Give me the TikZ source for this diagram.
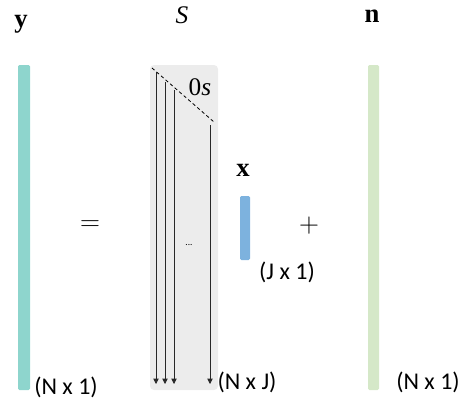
\documentclass[tikz,border=0pt]{standalone}
\usepackage{fontspec}
\setmainfont{Carlito}
\newfontfamily\symserif{Liberation Serif}
\usetikzlibrary{arrows.meta}
\tikzset{every picture/.style={line width=0.75pt}}
\tikzset{
  vecbar/.style={rounded corners=1pt, draw=none},
  veclabel/.style={font=\symserif\bfseries\fontsize{20}{22}\selectfont, inner sep=0pt},
  dimlabel/.style={font=\fontsize{18}{20}\selectfont, inner sep=0pt},
  oplabel/.style={font=\fontsize{20}{22}\selectfont, inner sep=0pt},
  colarrow/.style={line width=0.6pt, color={rgb, 255:red, 40; green, 40; blue, 40 }, -{Triangle[length=4pt,width=4pt]}},
}
\begin{document}
\begin{tikzpicture}[x=0.75pt,y=0.75pt,yscale=-1,xscale=1]
\useasboundingbox (0,0) rectangle (463,405);

%Shape: Rectangle y
\fill [vecbar, color={rgb, 255:red, 142; green, 213; blue, 205 }] (18,65) rectangle (30,390);
%Shape: Rectangle S
\fill [vecbar, rounded corners=3pt, color={rgb, 255:red, 236; green, 236; blue, 236 }] (150,65) rectangle (218,390);
%Shape: Rectangle x
\fill [vecbar, color={rgb, 255:red, 125; green, 178; blue, 222 }] (240,196) rectangle (250,260);
%Shape: Rectangle n
\fill [vecbar, color={rgb, 255:red, 213; green, 232; blue, 200 }] (368,65) rectangle (379,390);

% corner of the zero block
\coordinate (dtop) at (152,68);
\coordinate (dbot) at (214,122);
\draw [dashed, line width=0.6pt, dash pattern=on 2.5pt off 2pt] (dtop) -- (dbot);

% columns of S
\coordinate (c1top) at (156,72);
\coordinate (c1bot) at (156,384);
\coordinate (c2top) at (165,82);
\coordinate (c2bot) at (165,384);
\coordinate (c3top) at (174,90);
\coordinate (c3bot) at (174,384);
\coordinate (c4top) at (210,125);
\coordinate (c4bot) at (210,384);
\draw [colarrow] (c1top) -- (c1bot);
\draw [colarrow] (c2top) -- (c2bot);
\draw [colarrow] (c3top) -- (c3bot);
\draw [colarrow] (c4top) -- (c4bot);

% Text Node
\node [veclabel] (ylab) at (21,24) {y};
% Text Node
\node [font=\symserif\itshape\fontsize{19}{21}\selectfont, inner sep=0pt] (Slab) at (182,15) {S};
% Text Node
\node [veclabel] (xlab) at (243,170) {x};
% Text Node
\node [veclabel] (nlab) at (372,16) {n};
% Text Node
\node [font=\symserif\fontsize{19}{21}\selectfont, inner sep=0pt] (zero) at (200,87) {0\textit{s}};
% Text Node
\node [font=\scriptsize, inner sep=0pt] (dots) at (189,245) {...};
% Text Node
\node [oplabel] (eq) at (90,226) {$=$};
% Text Node
\node [oplabel] (plus) at (309,226) {$+$};
% Text Node
\node [dimlabel] (ydim) at (66,387) {(N x 1)};
% Text Node
\node [dimlabel] (Sdim) at (247,382) {(N x J)};
% Text Node
\node [dimlabel] (xdim) at (287,272) {(J x 1)};
% Text Node
\node [dimlabel] (ndim) at (428,382) {(N x 1)};

\end{tikzpicture}
\end{document}
